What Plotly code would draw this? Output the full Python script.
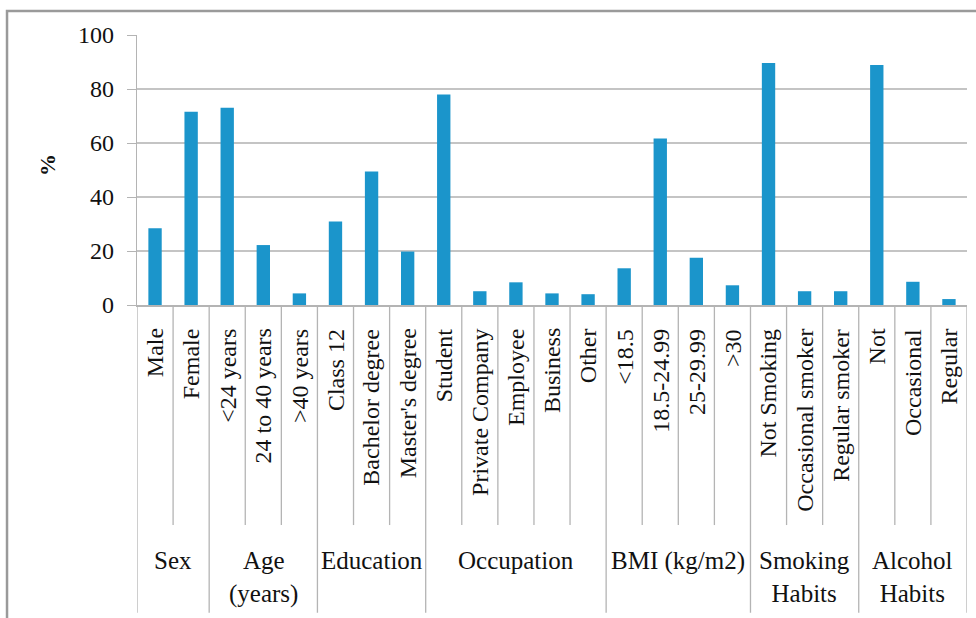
import plotly.graph_objects as go

categories = ["Male", "Female", "<24 years", "24 to 40 years", ">40 years",
              "Class 12", "Bachelor degree", "Master's degree",
              "Student", "Private Company", "Employee", "Business", "Other",
              "<18.5", "18.5-24.99", "25-29.99", ">30",
              "Not Smoking", "Occasional smoker", "Regular smoker",
              "Not", "Occasional", "Regular"]
values = [28.4, 71.6, 73.1, 22.2, 4.3,
          30.9, 49.4, 19.8,
          78.0, 5.1, 8.4, 4.3, 4.0,
          13.6, 61.7, 17.5, 7.3,
          89.6, 5.1, 5.1,
          88.9, 8.6, 2.2]
groups = ["Sex", "Age<br>(years)", "Education", "Occupation",
          "BMI (kg/m2)", "Smoking<br>Habits", "Alcohol<br>Habits"]
group_sizes = [2, 3, 3, 5, 4, 3, 3]
y_ticks = [0, 20, 40, 60, 80, 100]

FONT = "Liberation Serif"
N = len(categories)
xs = list(range(N))

fig = go.Figure()
fig.add_trace(go.Bar(x=xs, y=values, marker=dict(color="#1b95cb", line=dict(width=0)),
                     width=0.37, showlegend=False))

shapes = []
annotations = []
GRAY = "#b4b4b4"
bounds = [-0.5]
for s in group_sizes:
    bounds.append(bounds[-1] + s)
long_set = set(bounds)
for i in range(N + 1):
    b = i - 0.5
    y1 = -1.14 if b in long_set else -0.815
    shapes.append(dict(type="line", xref="x", yref="paper", x0=b, x1=b, y0=0, y1=y1,
                       line=dict(color=GRAY, width=1.3)))

for i, c in enumerate(categories):
    annotations.append(dict(x=i, y=-0.08, xref="x", yref="paper", text=c,
                            textangle=-90, showarrow=False, xanchor="center",
                            yanchor="top", font=dict(family=FONT, size=24, color="#111")))
for g, (b0, b1) in zip(groups, zip(bounds[:-1], bounds[1:])):
    annotations.append(dict(x=(b0 + b1) / 2, y=-0.89, xref="x", yref="paper", text=g,
                            showarrow=False, xanchor="center", yanchor="top",
                            font=dict(family=FONT, size=25, color="#111")))

shapes.append(dict(type="rect", xref="paper", yref="paper", x0=-0.1566, x1=1.2,
                   y0=-1.3, y1=1.089, line=dict(color="#9a9a9a", width=2.5),
                   fillcolor="rgba(0,0,0,0)", layer="below"))

annotations.append(dict(x=-0.108, y=0.52, xref="paper", yref="paper", text="<b>%</b>",
                        textangle=-90, showarrow=False, xanchor="center", yanchor="middle",
                        font=dict(family=FONT, size=22, color="#111")))

fig.update_layout(
    width=976, height=618,
    margin=dict(l=137, r=9, t=35, b=313),
    paper_bgcolor="white", plot_bgcolor="white",
    font=dict(family=FONT, size=24, color="#111"),
    bargap=0.63,
    shapes=shapes, annotations=annotations,
    xaxis=dict(range=[-0.5, N - 0.5], showticklabels=False, showgrid=False,
               showline=True, linecolor=GRAY, linewidth=1.5, ticks="", zeroline=False,
               fixedrange=True),
    yaxis=dict(range=[0, 100], tickvals=y_ticks, showgrid=True, gridcolor="#c4c4c4",
               gridwidth=1.5, showline=True, linecolor=GRAY, linewidth=1.3,
               ticks="outside", ticklen=9, tickcolor=GRAY, tickwidth=1.3,
               ticklabelstandoff=8,
               zeroline=False, tickfont=dict(family=FONT, size=24, color="#111"),
               fixedrange=True),
)

fig.write_html("out.html")
